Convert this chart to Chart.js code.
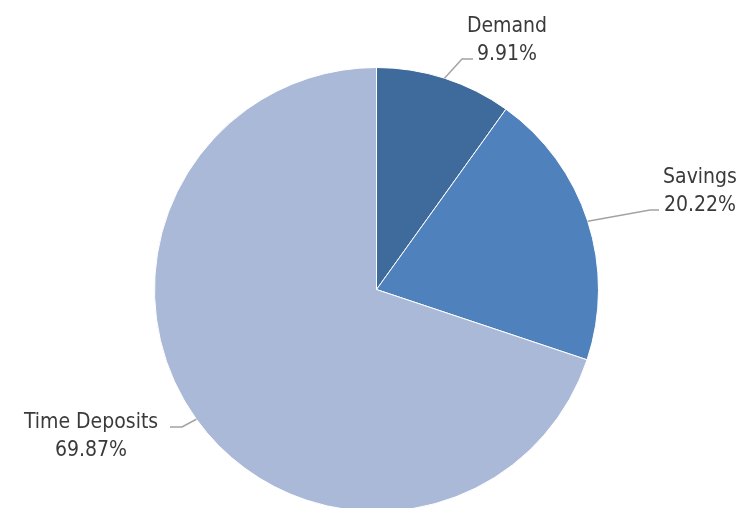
<!DOCTYPE html>
<html>
<head>
<meta charset="utf-8">
<script src="https://cdn.jsdelivr.net/npm/chart.js@4/dist/chart.umd.min.js"></script>
<style>
    html, body { margin: 0; padding: 0; background: #fff; overflow: hidden; }
    #wrap { width: 742px; height: 508px; overflow: hidden; }
</style>
</head>
<body>
<div id="wrap"><canvas id="depositChart" width="742" height="520"></canvas></div>
<script>
// 預金構成データ
const categories = ['Demand', 'Savings', 'Time Deposits'];
const shares = [9.91, 20.22, 69.87];
const sliceColors = ['#3F6A9C', '#4F81BD', '#AAB9D7'];

// ラベル配置（中心x, 1行目ベースライン, 引き出し線の折れ点と終点）
const labelLayout = [
    { x: 507, y: 32, elbow: [462, 59], end: [473, 59] },
    { x: 700, y: 183, elbow: [650, 210], end: [659, 210] },
    { x: 91, y: 428, elbow: [182, 427], end: [170, 427] }
];

// 引き出し線付きラベルの描画
const leaderLabels = {
    id: 'leaderLabels',
    afterDatasetsDraw(chart) {
        const ctx = chart.ctx;
        const meta = chart.getDatasetMeta(0);
        ctx.save();
        meta.data.forEach((arc, i) => {
            const p = arc.getProps(['x', 'y', 'startAngle', 'endAngle', 'outerRadius'], true);
            const mid = (p.startAngle + p.endAngle) / 2;
            const sx = p.x + Math.cos(mid) * p.outerRadius;
            const sy = p.y + Math.sin(mid) * p.outerRadius;
            const lay = labelLayout[i];

            ctx.strokeStyle = '#A3A3A3';
            ctx.lineWidth = 1.5;
            ctx.beginPath();
            ctx.moveTo(sx, sy);
            ctx.lineTo(lay.elbow[0], lay.elbow[1]);
            ctx.lineTo(lay.end[0], lay.end[1]);
            ctx.stroke();

            ctx.fillStyle = '#3A3A3A';
            ctx.font = '21px "DejaVu Sans Condensed", "DejaVu Sans"';
            ctx.textAlign = 'center';
            ctx.textBaseline = 'alphabetic';
            ctx.fillText(categories[i], lay.x, lay.y);
            ctx.fillText(shares[i].toFixed(2) + '%', lay.x, lay.y + 28);
        });
        ctx.restore();
    }
};

const chart = new Chart(document.getElementById('depositChart').getContext('2d'), {
    type: 'pie',
    data: {
        labels: categories,
        datasets: [{
            data: shares,
            backgroundColor: sliceColors,
            borderColor: '#ffffff',
            borderWidth: 1
        }]
    },
    options: {
        responsive: false,
        animation: false,
        layout: {
            padding: { left: 154, right: 143, top: 67, bottom: 8 }
        },
        plugins: {
            legend: { display: false },
            tooltip: { enabled: false }
        }
    },
    plugins: [leaderLabels]
});
</script>
</body>
</html>
